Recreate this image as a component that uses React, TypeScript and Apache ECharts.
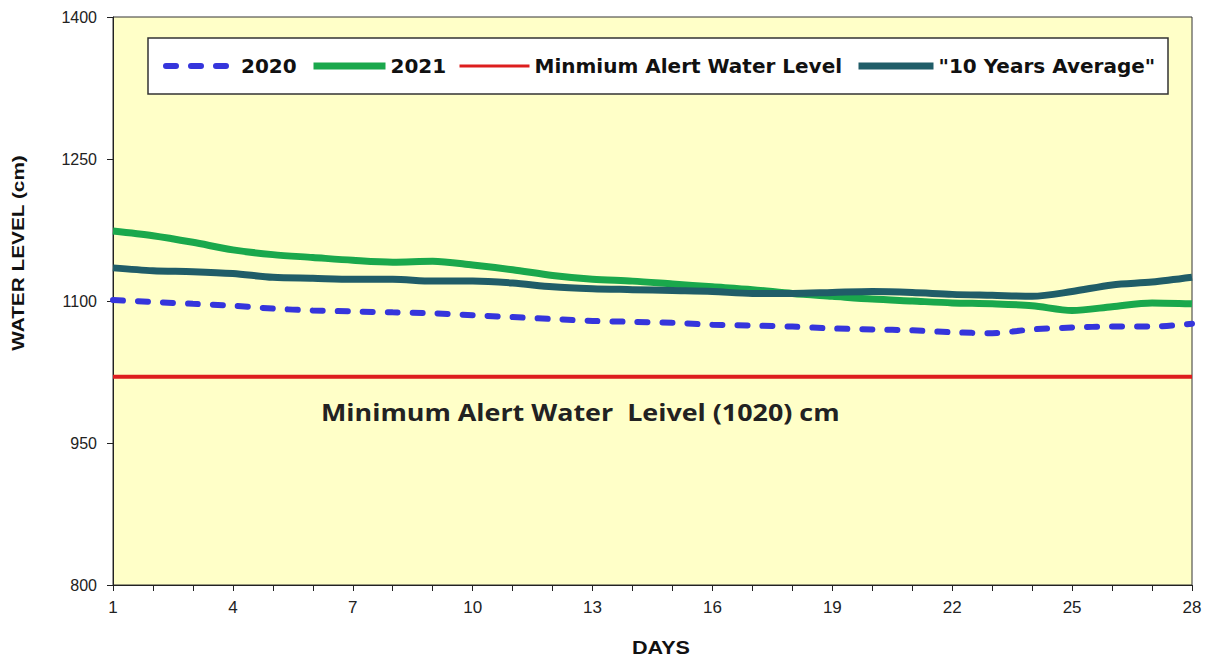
import React, { useEffect, useRef } from "react";
import * as echarts from "echarts";

const days = ["1","2","3","4","5","6","7","8","9","10","11","12","13","14","15","16","17","18","19","20","21","22","23","24","25","26","27","28"];
const y2020 = [1101,1099,1097,1095,1092,1090,1089,1088,1087,1085,1083,1081,1079,1078,1077,1075,1074,1073,1071,1070,1069,1067,1066,1070,1072,1073,1073,1076];
const y2021 = [1174,1169,1162,1154,1149,1146,1143,1141,1142,1138,1133,1127,1123,1121,1118,1115,1112,1108,1105,1102,1100,1098,1097,1095,1090,1094,1098,1097];
const avg10 = [1135,1132,1131,1129,1125,1124,1123,1123,1121,1121,1119,1115,1113,1112,1111,1110,1108,1108,1109,1110,1109,1107,1106,1105,1110,1117,1120,1125];
const minAlert = days.map(() => 1020);
const seriesNames = ["2020", "2021", "Minmium Alert Water Level", "\"10 Years Average\""];
const annotation = "Minimum Alert Water  Leivel (1020) cm";
const yTitle = "WATER LEVEL (cm)";
const xTitle = "DAYS";

export default function App() {
  const ref = useRef<HTMLDivElement>(null);
  useEffect(() => {
    if (!ref.current) return;
    const chart = echarts.init(ref.current, null, { renderer: "svg" });
    const legendText = { fontFamily: "DejaVu Sans", fontWeight: "bold", fontSize: 20, color: "#111" };
    const mkLegend = (name: string, left: number, w: number, lw: number) => ({
      data: [name], left, top: 56, padding: 0, itemWidth: w, itemHeight: 20, itemGap: 0,
      textStyle: legendText, z: 10, selectedMode: false,
      itemStyle: { opacity: 0 }, lineStyle: { width: lw },
    });
    chart.setOption({
      animation: false,
      backgroundColor: "#ffffff",
      grid: {
        left: 113, right: 21, top: 17, bottom: 80,
        show: true, backgroundColor: "#FFFFC8", borderColor: "#333", borderWidth: 1,
      },
      legend: [
        mkLegend(seriesNames[0], 163, 70, 6),
        mkLegend(seriesNames[1], 310, 72, 7),
        mkLegend(seriesNames[2], 458, 70, 3),
        mkLegend(seriesNames[3], 855, 75, 7),
      ],
      graphic: [
        { type: "rect", z: 5, shape: { x: 148, y: 38, width: 1020, height: 56 }, style: { fill: "#fff", stroke: "#333", lineWidth: 1.5 } },
        { type: "text", z: 5, x: 321, y: 412, scaleX: 1.12, style: { text: annotation, font: "bold 24px 'Open Sans'", fill: "#222", textVerticalAlign: "middle" } },
        { type: "text", z: 5, x: 18, y: 253, rotation: Math.PI / 2, scaleX: 1.3, style: { text: yTitle, font: "bold 16px 'Liberation Sans'", fill: "#111", textAlign: "center", textVerticalAlign: "middle" } },
        { type: "text", z: 5, x: 661, y: 648, scaleX: 1.2, style: { text: xTitle, font: "bold 18px 'Liberation Sans'", fill: "#111", textAlign: "center", textVerticalAlign: "middle" } },
      ],
      xAxis: {
        type: "category", data: days, boundaryGap: false,
        axisLine: { lineStyle: { color: "#222", width: 1 } },
        axisTick: { interval: 0, length: 6, lineStyle: { color: "#222" } },
        axisLabel: { interval: 2, margin: 14, fontSize: 17, color: "#222", fontFamily: "'Liberation Sans Narrow', 'Liberation Sans'" },
        splitLine: { show: false },
      },
      yAxis: {
        type: "value", min: 800, max: 1400, interval: 150,
        axisLine: { show: true, lineStyle: { color: "#222", width: 1 } },
        axisTick: { show: true, length: 6, lineStyle: { color: "#222" } },
        axisLabel: { margin: 16, fontSize: 16, color: "#222", fontFamily: "'Liberation Sans'", formatter: (v: number) => String(v) },
        splitLine: { show: false },
      },
      series: [
        { name: seriesNames[0], type: "line", data: y2020, smooth: 0.3, symbol: "none", z: 3,
          lineStyle: { color: "#3535dc", width: 6, type: [10, 15], cap: "round" }, itemStyle: { color: "#3535dc" } },
        { name: seriesNames[1], type: "line", data: y2021, smooth: 0.3, symbol: "none", z: 3,
          lineStyle: { color: "#1aa84c", width: 7 }, itemStyle: { color: "#1aa84c" } },
        { name: seriesNames[2], type: "line", data: minAlert, symbol: "none", z: 3,
          lineStyle: { color: "#dd1e1e", width: 4 }, itemStyle: { color: "#dd1e1e" } },
        { name: seriesNames[3], type: "line", data: avg10, smooth: 0.3, symbol: "none", z: 3,
          lineStyle: { color: "#205d68", width: 7 }, itemStyle: { color: "#205d68" } },
      ],
    });
    return () => chart.dispose();
  }, []);
  return <div ref={ref} style={{ position: "fixed", left: 0, top: 0, width: 1213, height: 665 }} />;
}
